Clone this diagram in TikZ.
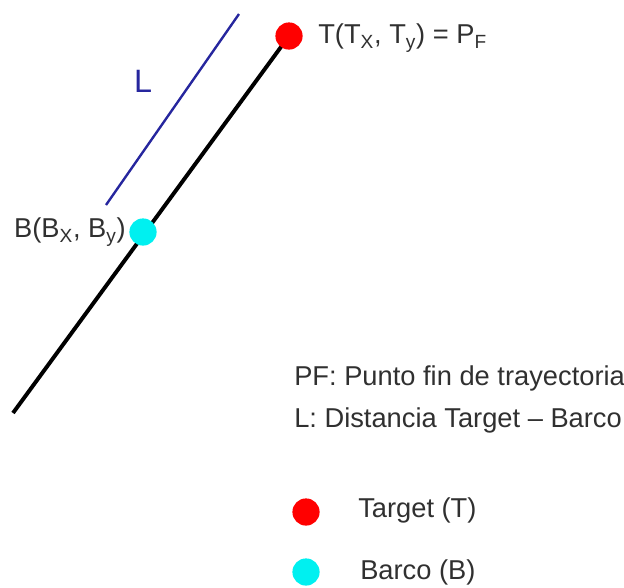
\documentclass[tikz,border=0pt]{standalone}
\usepackage{fontspec}
\setmainfont{Liberation Sans}
\usepackage{xcolor}
\usepackage{tikz}
\usetikzlibrary{calc}
\tikzset{every picture/.append style={font=\fontsize{19.4}{22}\selectfont}}
\definecolor{figred}{HTML}{FF0000}
\definecolor{figcyan}{HTML}{00F0F0}
\definecolor{fignavy}{HTML}{26269E}
\definecolor{figink}{HTML}{303030}
\tikzset{
  dot/.style={circle,inner sep=0pt,minimum size=0.68cm},
  lbl/.style={text=figink,inner sep=0pt}
}

\begin{document}
\begin{tikzpicture}[x=0.025cm,y=-0.025cm]
    \useasboundingbox (0,0) rectangle (624,587);
    % trajectory
    \coordinate (start) at (13,413);
    \node[dot] (tdot) at (289,36) {};
    \node[dot] (bdot) at (143,232) {};
    \draw[black,line width=2.8pt] (start) -- (tdot.center);
    \fill[figred] (tdot) circle (0.34cm);
    \fill[figcyan] (bdot) circle (0.34cm);
    % distance L
    \coordinate (lfrom) at (106,205);
    \coordinate (lto) at (239,14);
    \draw[fignavy,line width=1.7pt] (lfrom) -- (lto);
    \node[text=fignavy,inner sep=0pt,font=\fontsize{23}{26}\selectfont] (llbl) at (143,81) {L};
    % labels
    \node[lbl,anchor=west] (tlbl) at (318,38) {T(T\textsubscript{X}, T\textsubscript{y}) = P\textsubscript{F}};
    \node[lbl,anchor=east] (blbl) at (126,232) {B(B\textsubscript{X}, B\textsubscript{y})};
    % legend
    \node[lbl,anchor=west] (pflbl) at (294,378) {PF: Punto fin de trayectoria};
    \node[lbl,anchor=west] (dlbl) at (294,420) {L: Distancia Target -- Barco};
    \node[dot,fill=figred] (legt) at (306,512) {};
    \node[dot,fill=figcyan] (legb) at (306,572) {};
    \node[lbl,anchor=west] (tleg) at (358,510) {Target (T)};
    \node[lbl,anchor=west] (bleg) at (360,572) {Barco (B)};
  \end{tikzpicture}
\end{document}
